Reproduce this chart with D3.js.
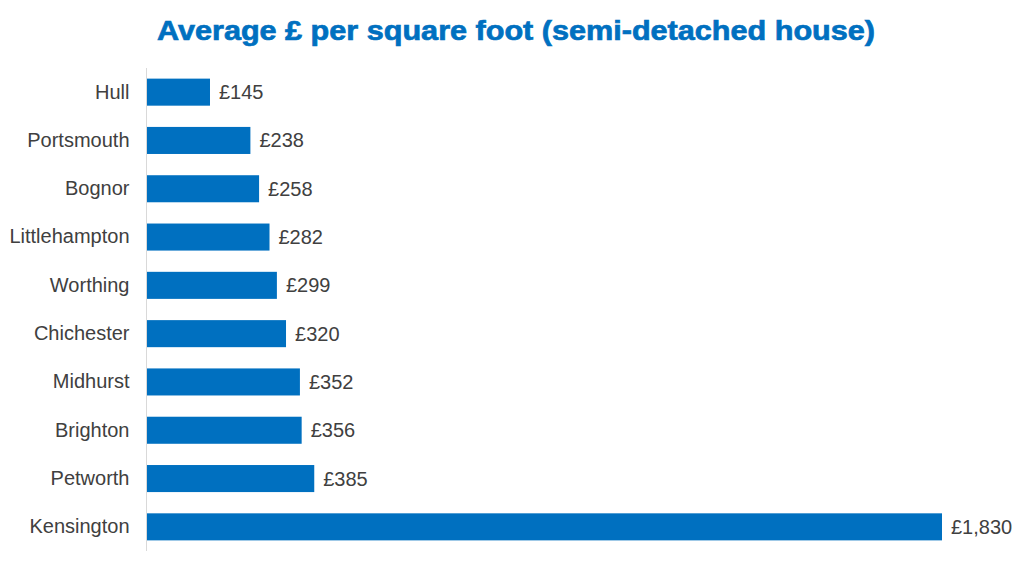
<!DOCTYPE html>
<html><head><meta charset="utf-8">
<script src="https://cdn.jsdelivr.net/npm/d3@7/dist/d3.min.js"></script>
<style>body{margin:0;background:#fff;}svg{display:block;}</style>
</head><body>
<svg id="chart" width="1032" height="568"></svg>
<script>
const categories = ["Hull","Portsmouth","Bognor","Littlehampton","Worthing","Chichester","Midhurst","Brighton","Petworth","Kensington"];
const values = [145,238,258,282,299,320,352,356,385,1830];
const title = "Average £ per square foot (semi-detached house)";

const svg = d3.select("#chart");
const margin = {left:147, top:68, right:90, bottom:17};
const W = 1032, H = 568;
const x = d3.scaleLinear().domain([0,1830]).range([margin.left, 942]);
const y = d3.scaleBand().domain(categories).range([margin.top, H - margin.bottom]).paddingInner(0.44).paddingOuter(0.22);

svg.append("text").attr("x", 157).attr("y", 40)
  .attr("textLength", 718).attr("lengthAdjust","spacingAndGlyphs")
  .attr("font-family","Liberation Sans, Arial, sans-serif").attr("font-weight","bold")
  .attr("font-size", 28).attr("fill","#0070C0").attr("stroke","#0070C0").attr("stroke-width",0.7).text(title);

svg.selectAll("rect.bar").data(values).enter().append("rect").attr("class","bar")
  .attr("x", x(0)).attr("y",(d,i)=>y(categories[i])).attr("width", d=>x(d)-x(0))
  .attr("height", y.bandwidth()).attr("fill","#0070C0");

const yAxis = d3.axisLeft(y).tickSize(0).tickPadding(17);
const g = svg.append("g").attr("transform",`translate(${margin.left - 0.5},0)`).call(yAxis);
g.select(".domain").attr("stroke","#d9d9d9").attr("d", `M0,${margin.top}V${H-margin.bottom}`);
g.selectAll("text").attr("font-family","Liberation Sans, Arial, sans-serif").attr("font-size",20).attr("fill","#404040");

svg.selectAll("text.val").data(values).enter().append("text").attr("class","val")
  .attr("x", d=>x(d)+9).attr("y",(d,i)=>y(categories[i])+y.bandwidth()/2).attr("dy","0.35em")
  .attr("font-family","Liberation Sans, Arial, sans-serif").attr("font-size",20).attr("fill","#404040")
  .text(d=>"£"+d3.format(",")(d));
</script>
</body></html>
